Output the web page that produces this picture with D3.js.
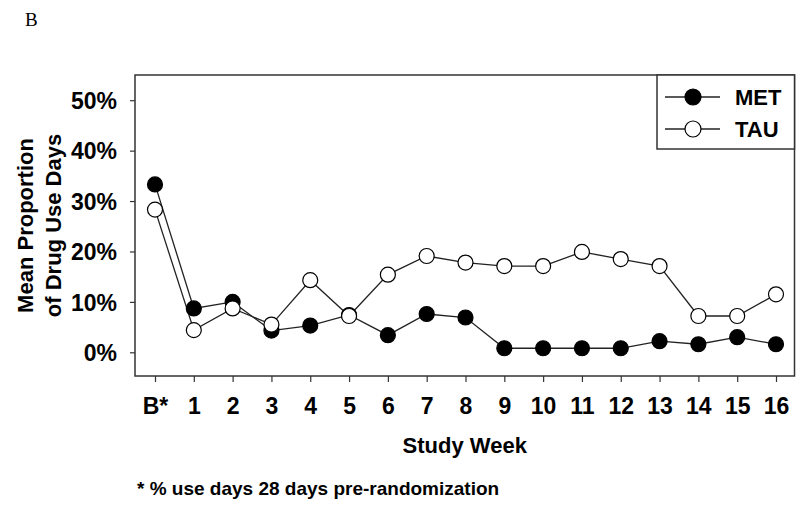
<!DOCTYPE html>
<html>
<head>
<meta charset="utf-8">
<script src="https://cdn.jsdelivr.net/npm/d3@7"></script>
<style>
  html, body { margin: 0; padding: 0; background: #fff; }
  svg { display: block; }
  text { font-family: "Liberation Sans", Arial, sans-serif; fill: #000; }
</style>
</head>
<body>
<svg id="chart" width="800" height="510"></svg>
<script>
const weeks = ["B*", "1", "2", "3", "4", "5", "6", "7", "8", "9", "10", "11", "12", "13", "14", "15", "16"];
const metValues = [33.3, 8.7, 10.0, 4.3, 5.3, 7.4, 3.4, 7.6, 6.9, 0.8, 0.8, 0.8, 0.8, 2.2, 1.6, 3.0, 1.6];
const tauValues = [28.3, 4.4, 8.7, 5.5, 14.3, 7.2, 15.4, 19.1, 17.8, 17.1, 17.1, 19.9, 18.5, 17.1, 7.2, 7.2, 11.5];
const yTicks = [0, 10, 20, 30, 40, 50];
const yTickLabels = ["0%", "10%", "20%", "30%", "40%", "50%"];
const seriesNames = ["MET", "TAU"];

const svg = d3.select("#chart");
const frame = { left: 135, right: 794.5, top: 75, bottom: 376 };

const x = d3.scalePoint().domain(weeks).range([155, 776]);
const y = d3.scaleLinear().domain([-4.7, 55]).range([frame.bottom, frame.top]);

// panel letter
svg.append("text").attr("x", 25).attr("y", 26)
  .style("font-family", "'Liberation Serif', 'Times New Roman', serif")
  .style("font-size", "19px").text("B");

// frame
svg.append("rect")
  .attr("x", frame.left).attr("y", frame.top)
  .attr("width", frame.right - frame.left).attr("height", frame.bottom - frame.top)
  .attr("fill", "none").attr("stroke", "#333").attr("stroke-width", 1.5);

// y axis
const yAxis = d3.axisLeft(y).tickValues(yTicks)
  .tickFormat((d, i) => yTickLabels[i]).tickSize(5).tickPadding(13);
const gy = svg.append("g").attr("transform", `translate(${frame.left},0)`).call(yAxis);
gy.select(".domain").remove();
gy.selectAll(".tick line").attr("stroke", "#333").attr("stroke-width", 1.2);
gy.selectAll(".tick text")
  .style("font-size", "23px").style("font-weight", "bold")
  .style("font-family", "'Liberation Sans', Arial, sans-serif").attr("dy", "0.36em");

// x axis
const xAxis = d3.axisBottom(x).tickSize(6).tickPadding(16);
const gx = svg.append("g").attr("transform", `translate(0,${frame.bottom})`).call(xAxis);
gx.select(".domain").remove();
gx.selectAll(".tick line").attr("stroke", "#333").attr("stroke-width", 1.2);
gx.selectAll(".tick text")
  .style("font-size", "23px").style("font-weight", "bold")
  .style("font-family", "'Liberation Sans', Arial, sans-serif").attr("dy", "0.71em");

// axis titles
svg.append("text").attr("x", (frame.left + frame.right) / 2).attr("y", 453)
  .attr("text-anchor", "middle").style("font-size", "22px").style("font-weight", "bold")
  .text("Study Week");

const yt = svg.append("text")
  .attr("transform", `translate(0,${(frame.top + frame.bottom) / 2}) rotate(-90)`)
  .attr("text-anchor", "middle").style("font-size", "22px").style("font-weight", "bold");
yt.append("tspan").attr("x", 0).attr("y", 33).text("Mean Proportion");
yt.append("tspan").attr("x", 0).attr("y", 61).text("of Drug Use Days");

// footnote
svg.append("text").attr("x", 137).attr("y", 495)
  .style("font-size", "19px").style("font-weight", "bold")
  .text("* % use days 28 days pre-randomization");

// series
const series = [
  { name: seriesNames[0], values: metValues, fill: "#000" },
  { name: seriesNames[1], values: tauValues, fill: "#fff" }
];
const line = d3.line().x((d, i) => x(weeks[i])).y(d => y(d));

series.forEach(s => {
  svg.append("path").datum(s.values).attr("d", line)
    .attr("fill", "none").attr("stroke", "#222").attr("stroke-width", 1.3);
});
series.forEach(s => {
  svg.append("g").selectAll("circle").data(s.values).join("circle")
    .attr("cx", (d, i) => x(weeks[i])).attr("cy", d => y(d)).attr("r", 7.5)
    .attr("fill", s.fill).attr("stroke", "#000").attr("stroke-width", 1.2);
});

// legend
const lg = svg.append("g");
lg.append("rect").attr("x", 657).attr("y", frame.top).attr("width", frame.right - 657).attr("height", 74)
  .attr("fill", "#fff").attr("stroke", "#333").attr("stroke-width", 1.5);
series.forEach((s, i) => {
  const yy = 97 + i * 32;
  lg.append("line").attr("x1", 665).attr("x2", 720).attr("y1", yy).attr("y2", yy)
    .attr("stroke", "#222").attr("stroke-width", 1.3);
  lg.append("circle").attr("cx", 693).attr("cy", yy).attr("r", 8)
    .attr("fill", s.fill).attr("stroke", "#000").attr("stroke-width", 1.2);
  lg.append("text").attr("x", 735).attr("y", yy + 8)
    .style("font-size", "22px").style("font-weight", "bold").text(s.name);
});
</script>
</body>
</html>
